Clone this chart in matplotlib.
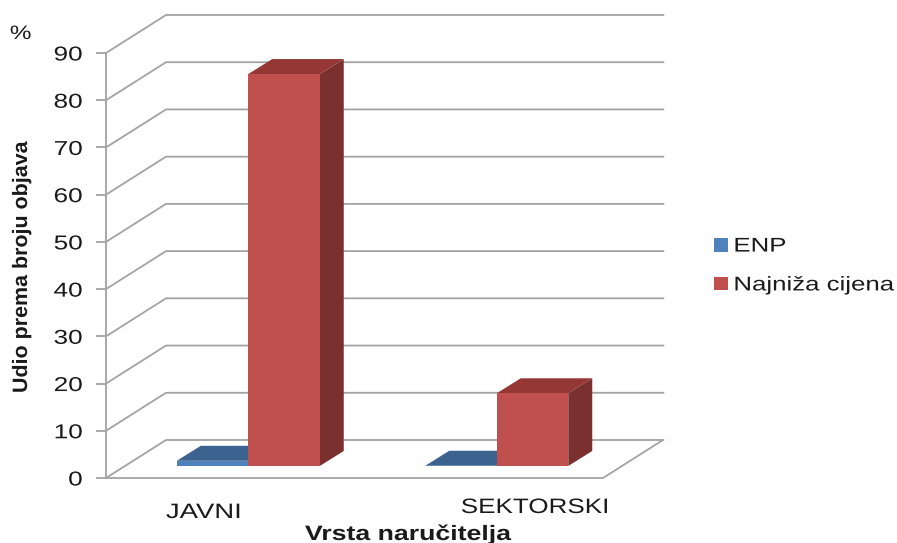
import matplotlib
matplotlib.use("Agg")
import matplotlib.pyplot as plt
from matplotlib.patches import Patch
from matplotlib.patheffects import AbstractPathEffect
from matplotlib.transforms import Affine2D

categories = ["JAVNI", "SEKTORSKI"]
series_names = ["ENP", "Najniža cijena"]
enp_values = [1.1, 0.05]
najniza_values = [83, 15.4]
y_ticks = [0, 10, 20, 30, 40, 50, 60, 70, 80, 90]

W, H = 897, 543
BLUE, BLUE_TOP = "#4F81BD", "#3C6390"
RED, RED_TOP, RED_SIDE = "#C0504D", "#943735", "#7A302E"
GRID = "#A3A3A3"
TEXT = "#1a1a1a"


# the original picture was stretched sideways, text too
class Stretch(AbstractPathEffect):
    def __init__(self, sx=1.0, sy=1.0, anchor="left"):
        super().__init__()
        self.sx, self.sy, self.anchor = sx, sy, anchor

    def draw_path(self, renderer, gc, tpath, affine, rgbFace=None):
        box = affine.transform_path(tpath).get_extents()
        x0 = {"left": box.x0, "right": box.x1, "center": (box.x0 + box.x1) / 2}[self.anchor]
        y0 = box.y0
        extra = Affine2D().translate(-x0, -y0).scale(self.sx, self.sy).translate(x0, y0)
        renderer.draw_path(gc, tpath, affine + extra, rgbFace)


plt.rcParams["font.family"] = ["Liberation Sans", "DejaVu Sans"]
fig = plt.figure(figsize=(W / 100, H / 100), dpi=100)
# front plane of the 3d box
ax = fig.add_axes([106 / W, 1 - 478 / H, 497 / W, 425 / H])
ax.set_xlim(0, 2)
ax.set_ylim(0, 90)
ax.patch.set_visible(False)
for s in ["top", "right", "bottom"]:
    ax.spines[s].set_visible(False)
ax.spines["left"].set_color(GRID)
ax.spines["left"].set_linewidth(1.3)

px_x = 2 / 497
px_y = 90 / 425
wall_dx, wall_dy = 60 * px_x, 38 * px_y  # floor depth
bar_in_x, bar_in_y = 18 * px_x, 12 * px_y  # where bars stand
bar_dx, bar_dy = 24 * px_x, 15 * px_y  # bar depth
bar_w = 71.5 * px_x


def line(xs, ys):
    ax.plot(xs, ys, color=GRID, lw=1.3, clip_on=False, zorder=1, solid_capstyle="butt")


for v in y_ticks:
    line([0, wall_dx, 2 + wall_dx + 0.005], [v, v + wall_dy, v + wall_dy])
line([0, 2], [0, 0])
line([2, 2 + wall_dx], [0, wall_dy])


def bar(x_left, value, front, top, side, z):
    x0 = x_left + bar_in_x
    x1 = x0 + bar_w
    y0 = bar_in_y
    y1 = y0 + value
    ax.fill([x1, x1 + bar_dx, x1 + bar_dx, x1], [y0, y0 + bar_dy, y1 + bar_dy, y1], color=side, lw=0, clip_on=False, zorder=z)
    ax.fill([x0, x0 + bar_dx, x1 + bar_dx, x1], [y1, y1 + bar_dy, y1 + bar_dy, y1], color=top, lw=0, clip_on=False, zorder=z)
    ax.fill([x0, x1, x1, x0], [y0, y0, y1, y1], color=front, lw=0, clip_on=False, zorder=z)


for i in range(len(categories)):
    center = i + 0.5
    bar(center - bar_w, enp_values[i], BLUE, BLUE_TOP, BLUE_TOP, 2)
    bar(center, najniza_values[i], RED, RED_TOP, RED_SIDE, 3)

ax.set_xticks([])
ax.set_yticks(y_ticks)
ax.tick_params(axis="y", length=7, width=1.3, color=GRID, pad=10, labelsize=14.5, labelcolor=TEXT)
for lab in ax.get_yticklabels():
    lab.set_path_effects([Stretch(sx=1.3, anchor="right")])


def px_text(x, y, s, **kw):
    return fig.text(x / W, 1 - y / H, s, color=TEXT, **kw)


t1 = px_text(166, 518, categories[0], fontsize=15, ha="left", va="baseline")
t1.set_path_effects([Stretch(sx=1.32)])
t2 = px_text(461, 513, categories[1], fontsize=15, ha="left", va="baseline")
t2.set_path_effects([Stretch(sx=1.25)])
t3 = px_text(10, 39, "%", fontsize=14, ha="left", va="baseline")
t3.set_path_effects([Stretch(sx=1.25)])
t4 = px_text(305, 540, "Vrsta naručitelja", fontsize=15, fontweight="bold", ha="left", va="baseline")
t4.set_path_effects([Stretch(sx=1.28)])
t5 = px_text(31, 393, "Udio prema broju objava", fontsize=15, fontweight="bold", rotation=90, ha="right", va="bottom")
t5.set_path_effects([Stretch(sy=1.03)])

handles = [Patch(color=BLUE, lw=0), Patch(color=RED, lw=0)]
leg = ax.legend(handles, series_names, frameon=False, fontsize=14.3, loc="center left",
                bbox_to_anchor=(714 / W, 1 - 265.5 / H), bbox_transform=fig.transFigure,
                handlelength=0.7, handleheight=0.7, handletextpad=0.3, labelspacing=1.0,
                borderpad=0, borderaxespad=0)
for t in leg.get_texts():
    t.set_color(TEXT)
    t.set_path_effects([Stretch(sx=1.3)])

fig.savefig("out.png", dpi=100)
